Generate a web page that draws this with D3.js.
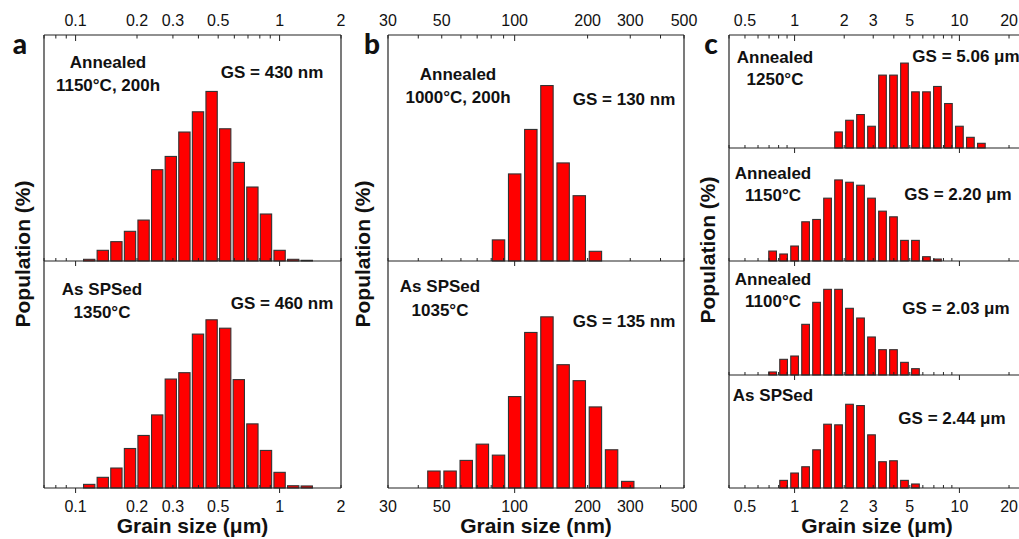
<!DOCTYPE html>
<html><head><meta charset="utf-8">
<script src="https://cdn.jsdelivr.net/npm/d3@7"></script>
<style>body{margin:0;background:#fff} svg{display:block}</style>
</head><body>
<svg id="chart" width="1019" height="539"></svg>
<script>
// ---------------- DATA ----------------
// Panel a (grain size in µm), bin centres and population (%)
const aBins = [0.1166, 0.1359, 0.1585, 0.1848, 0.2154, 0.2512, 0.2929, 0.3415, 0.3981, 0.4642, 0.5412, 0.6310, 0.7356, 0.8577, 1.0, 1.166, 1.359];
const aAnnealed = [0.15, 0.95, 1.72, 2.64, 3.64, 8.12, 9.30, 11.47, 13.27, 15.08, 11.76, 8.77, 6.58, 4.18, 0.95, 0.15, 0.06];
const aSPSed = [0.32, 0.94, 1.76, 3.48, 4.63, 6.44, 9.60, 10.16, 13.56, 14.82, 14.08, 9.55, 5.65, 3.31, 1.38, 0.20, 0.18];
const aTickLabels = [0.1, 0.2, 0.3, 0.5, 1, 2];

// Panel b (grain size in nm)
const bBinsAnnealed = [85.77, 100, 116.6, 135.9, 158.5, 184.8, 215.4];
const bAnnealed = [3.55, 14.64, 22.12, 29.50, 16.49, 10.98, 1.63];
const bBinsSPSed = [46.42, 54.12, 63.10, 73.56, 85.77, 100, 116.6, 135.9, 158.5, 184.8, 215.4, 251.2, 292.9];
const bSPSed = [1.87, 1.87, 3.04, 4.83, 3.62, 10.07, 17.13, 18.85, 13.58, 11.82, 8.93, 4.21, 0.73];
const bTickLabels = [30, 50, 100, 200, 300, 500];

// Panel c (grain size in µm)
const cBins1250 = [1.848, 2.154, 2.512, 2.929, 3.415, 3.981, 4.642, 5.412, 6.310, 7.356, 8.577, 10.0, 11.66, 13.59];
const c1250 = [2.84, 4.91, 5.92, 3.85, 12.90, 12.90, 15.03, 9.94, 9.94, 10.89, 7.87, 3.85, 1.89, 0.83];
const cBins1150 = [0.7356, 0.8577, 1.0, 1.166, 1.359, 1.585, 1.848, 2.154, 2.512, 2.929, 3.415, 3.981, 4.642, 5.412, 6.310, 7.356];
const c1150 = [1.76, 1.24, 2.65, 6.94, 7.35, 11.12, 14.35, 13.94, 13.41, 11.12, 8.82, 7.82, 3.65, 3.65, 0.76, 0.35];
const cBins1100 = [0.7356, 0.8577, 1.0, 1.166, 1.359, 1.585, 1.848, 2.154, 2.512, 2.929, 3.415, 3.981, 4.642, 5.412];
const c1100 = [0.53, 2.75, 3.33, 8.89, 12.75, 15.03, 15.03, 11.70, 10.0, 6.67, 4.44, 4.44, 2.22, 1.11];
const cBinsSPSed = [0.8577, 1.0, 1.166, 1.359, 1.585, 1.848, 2.154, 2.512, 2.929, 3.415, 3.981, 4.642, 5.412];
const cSPSed = [1.35, 2.65, 3.76, 6.76, 11.29, 11.18, 14.82, 14.59, 9.41, 4.65, 4.82, 1.35, 0.71];
const cTickLabels = [0.5, 1, 2, 3, 5, 10, 20];

// ---------------- DRAWING ----------------
const svg = d3.select("#chart");
const FONT = "'Liberation Sans', Arial, Helvetica, sans-serif";
const LINE = "#222";

function drawPanel(p) {
  const g = svg.append("g");
  const x = d3.scaleLog().domain(p.domain).range([p.x0, p.x1]);
  const ticks = x.ticks().filter(t => t >= p.domain[0] * 0.999 && t <= p.domain[1] * 1.001);
  const isMajor = t => Math.abs(Math.log10(t) - Math.round(Math.log10(t))) < 1e-6;

  p.subs.forEach((s, si) => {
    const y = d3.scaleLinear().domain([0, s.ymax]).range([s.y1, s.y0]);
    const r = Math.sqrt(s.bins[1] / s.bins[0]);
    g.append("g").selectAll("rect").data(s.bins.map((b, i) => ({b, v: s.values[i]})))
      .join("rect")
      .attr("x", d => { const l = x(d.b / r), rr = x(d.b * r); const st = rr - l; return x(d.b) - st * p.frac / 2 + 0.5; })
      .attr("width", d => { const st = x(d.b * r) - x(d.b / r); return Math.max(0, st * p.frac - 1); })
      .attr("y", d => y(d.v))
      .attr("height", d => s.y1 - y(d.v))
      .attr("fill", "#ff0000")
      .attr("stroke", "#333")
      .attr("stroke-width", 1.1);

    // bottom axis line of sub panel
    g.append("line").attr("x1", p.x0).attr("x2", p.x1).attr("y1", s.y1).attr("y2", s.y1)
      .attr("stroke", LINE).attr("stroke-width", 1.2);
    // ticks: minor inward (up), major outward (down)
    g.append("g").selectAll("line").data(ticks).join("line")
      .attr("x1", d => x(d)).attr("x2", d => x(d))
      .attr("y1", d => isMajor(d) ? s.y1 : s.y1 - 3)
      .attr("y2", d => isMajor(d) ? s.y1 + 5 : s.y1)
      .attr("stroke", LINE).attr("stroke-width", 1);

    // annotations
    s.texts.forEach(t => {
      g.append("text").attr("x", t.x).attr("y", t.y).attr("text-anchor", "middle")
        .attr("dominant-baseline", "central")
        .style("font-family", FONT).style("font-weight", "bold").style("font-size", "17px")
        .style("fill", "#111").text(t.s);
    });
  });

  const top = p.subs[0].y0, bottom = p.subs[p.subs.length - 1].y1;
  // top frame line with inward ticks
  g.append("line").attr("x1", p.x0).attr("x2", p.x1).attr("y1", top).attr("y2", top)
    .attr("stroke", LINE).attr("stroke-width", 1.2);
  g.append("g").selectAll("line").data(ticks).join("line")
    .attr("x1", d => x(d)).attr("x2", d => x(d))
    .attr("y1", top).attr("y2", d => top + (isMajor(d) ? 6 : 3.5))
    .attr("stroke", LINE).attr("stroke-width", 1);
  // left / right frame
  g.append("line").attr("x1", p.x0).attr("x2", p.x0).attr("y1", top).attr("y2", bottom)
    .attr("stroke", LINE).attr("stroke-width", 1.2);
  g.append("line").attr("x1", p.x1).attr("x2", p.x1).attr("y1", top).attr("y2", bottom)
    .attr("stroke", LINE).attr("stroke-width", 1.2);

  // tick labels top and bottom
  [20, 506].forEach(ty => {
    g.append("g").selectAll("text").data(p.labels).join("text")
      .attr("x", d => x(d)).attr("y", ty)
      .attr("text-anchor", "middle").attr("dominant-baseline", "central")
      .style("font-family", FONT).style("font-size", "16px").style("fill", "#111")
      .text(d => String(d));
  });

  // x-axis title
  g.append("text").attr("x", (p.x0 + Math.min(p.x1, 1025)) / 2).attr("y", 525)
    .attr("text-anchor", "middle").attr("dominant-baseline", "central")
    .style("font-family", FONT).style("font-weight", "bold").style("font-size", "21px")
    .style("fill", "#111").text(p.xTitle);

  // y-axis title
  g.append("text").attr("transform", `translate(${p.yTitleX},${p.yTitleY}) rotate(-90)`)
    .attr("text-anchor", "middle").attr("dominant-baseline", "central")
    .style("font-family", FONT).style("font-weight", "bold").style("font-size", "21px")
    .style("fill", "#111").text("Population (%)");

  // panel letter
  g.append("text").attr("x", p.letterX).attr("y", 54).attr("text-anchor", "middle")
    .style("font-family", "Lato, 'Open Sans', sans-serif").style("font-weight", "900")
    .style("font-size", "28px").style("fill", "#111").text(p.letter);
}

drawPanel({
  x0: 44, x1: 341, domain: [0.07, 2], frac: 0.907, labels: aTickLabels,
  xTitle: "Grain size (μm)", yTitleX: 22, yTitleY: 254, letter: "a", letterX: 20,
  subs: [
    {y0: 35, y1: 261, ymax: 20.1, bins: aBins, values: aAnnealed,
     texts: [{x: 108, y: 62, s: "Annealed"}, {x: 108, y: 85, s: "1150°C, 200h"}, {x: 272, y: 72, s: "GS = 430 nm"}]},
    {y0: 261, y1: 488, ymax: 20, bins: aBins, values: aSPSed,
     texts: [{x: 102, y: 289, s: "As SPSed"}, {x: 102, y: 312, s: "1350°C"}, {x: 282, y: 303, s: "GS = 460 nm"}]}
  ]
});

drawPanel({
  x0: 388, x1: 684, domain: [30, 500], frac: 0.83, labels: bTickLabels,
  xTitle: "Grain size (nm)", yTitleX: 362, yTitleY: 254, letter: "b", letterX: 372,
  subs: [
    {y0: 35, y1: 261, ymax: 38, bins: bBinsAnnealed, values: bAnnealed,
     texts: [{x: 458, y: 74, s: "Annealed"}, {x: 458, y: 97, s: "1000°C, 200h"}, {x: 624, y: 99, s: "GS = 130 nm"}]},
    {y0: 261, y1: 488, ymax: 25, bins: bBinsSPSed, values: bSPSed,
     texts: [{x: 440, y: 286, s: "As SPSed"}, {x: 440, y: 310, s: "1035°C"}, {x: 624, y: 321, s: "GS = 135 nm"}]}
  ]
});

drawPanel({
  x0: 729, x1: 1025, domain: [0.4, 25], frac: 0.79, labels: cTickLabels,
  xTitle: "Grain size (μm)", yTitleX: 707, yTitleY: 250, letter: "c", letterX: 711,
  subs: [
    {y0: 35, y1: 148, ymax: 20, bins: cBins1250, values: c1250,
     texts: [{x: 775, y: 57, s: "Annealed"}, {x: 775, y: 79, s: "1250°C"}, {x: 966, y: 56, s: "GS = 5.06 μm"}]},
    {y0: 148, y1: 261, ymax: 20, bins: cBins1150, values: c1150,
     texts: [{x: 773, y: 173, s: "Annealed"}, {x: 773, y: 195, s: "1150°C"}, {x: 958, y: 194, s: "GS = 2.20 μm"}]},
    {y0: 261, y1: 375, ymax: 20, bins: cBins1100, values: c1100,
     texts: [{x: 773, y: 279, s: "Annealed"}, {x: 773, y: 301, s: "1100°C"}, {x: 956, y: 308, s: "GS = 2.03  μm"}]},
    {y0: 375, y1: 488, ymax: 20, bins: cBinsSPSed, values: cSPSed,
     texts: [{x: 773, y: 395, s: "As SPSed"}, {x: 952, y: 418, s: "GS = 2.44 μm"}]}
  ]
});
</script>
</body></html>
